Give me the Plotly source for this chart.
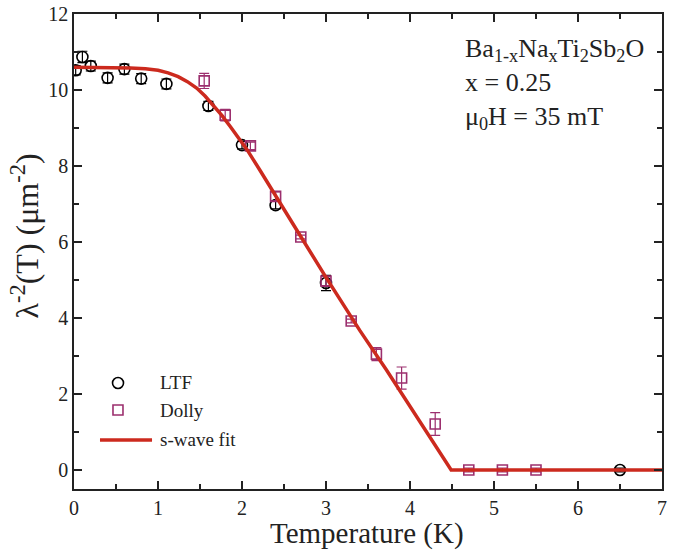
import plotly.graph_objects as go

# LTF data (circles)
ltf_T = [0.02, 0.1, 0.2, 0.4, 0.6, 0.8, 1.1, 1.6, 2.0, 2.4, 3.0, 6.5]
ltf_y = [10.52, 10.87, 10.63, 10.32, 10.55, 10.3, 10.16, 9.58, 8.55, 6.97, 4.92, 0.0]
ltf_err = [0.12, 0.15, 0.13, 0.13, 0.13, 0.13, 0.13, 0.12, 0.1, 0.1, 0.2, 0.05]

# Dolly data (squares)
dolly_T = [1.55, 1.8, 2.1, 2.4, 2.7, 3.0, 3.3, 3.6, 3.9, 4.3, 4.7, 5.1, 5.5]
dolly_y = [10.24, 9.34, 8.53, 7.2, 6.13, 4.97, 3.92, 3.05, 2.42, 1.21, 0.0, 0.0, 0.0]
dolly_err = [0.2, 0.15, 0.1, 0.12, 0.05, 0.12, 0.05, 0.17, 0.29, 0.3, 0.05, 0.05, 0.05]

# s-wave fit curve
fit_T = [0.0, 0.4, 0.67, 0.85, 1.0, 1.12, 1.24, 1.35, 1.46, 1.56, 1.65, 1.76, 1.86, 1.96, 2.06,
         2.21, 2.4, 2.6, 3.0, 3.4, 3.72, 4.0, 4.2, 4.35, 4.49, 7.0]
fit_y = [10.6, 10.6, 10.58, 10.56, 10.52, 10.45, 10.35, 10.22, 10.05, 9.84, 9.62, 9.33, 9.04, 8.74, 8.43,
         7.9, 7.2, 6.5, 5.07, 3.68, 2.63, 1.68, 1.0, 0.5, 0.0, 0.0]

legend_names = ["LTF", "Dolly", "s-wave fit"]

FONT = "Times New Roman, Liberation Serif, serif"
PURPLE = "#9c2f6e"
RED = "#cc2a1e"
INK = "#222"

fig = go.Figure()
fig.add_trace(go.Scatter(
    x=ltf_T, y=ltf_y, mode="markers", name=legend_names[0], showlegend=False,
    marker=dict(symbol="circle-open", size=11, color="black", line=dict(width=1.6, color="black")),
    error_y=dict(type="data", array=ltf_err, color="black", thickness=1.2, width=5),
))
fig.add_trace(go.Scatter(
    x=dolly_T, y=dolly_y, mode="markers", name=legend_names[1], showlegend=False,
    marker=dict(symbol="square-open", size=10, color=PURPLE, line=dict(width=1.6, color=PURPLE)),
    error_y=dict(type="data", array=dolly_err, color=PURPLE, thickness=1.2, width=5),
))
fig.add_trace(go.Scatter(
    x=fit_T, y=fit_y, mode="lines", name=legend_names[2], showlegend=False,
    line=dict(color=RED, width=3.5, shape="linear"),
))

axis_common = dict(
    showline=True, linecolor=INK, linewidth=1.6, mirror="ticks",
    ticks="inside", ticklen=8, tickwidth=1.5, tickcolor=INK,
    showgrid=False, zeroline=False, automargin=False,
    tickfont=dict(family=FONT, size=20, color=INK),
)
fig.update_xaxes(
    range=[0, 7], dtick=1, tick0=0,
    minor=dict(ticks="inside", ticklen=5, tickwidth=1.5, tickcolor=INK, dtick=0.5),
    **axis_common,
)
fig.update_yaxes(
    range=[-0.5, 12], dtick=2, tick0=0,
    minor=dict(ticks="inside", ticklen=5, tickwidth=1.5, tickcolor=INK, dtick=1),
    **axis_common,
)

# axis titles
fig.add_annotation(
    x=0.498, y=-0.094, xref="paper", yref="paper", xanchor="center", yanchor="middle",
    showarrow=False, text="Temperature (K)",
    font=dict(family=FONT, size=29, color=INK),
)
fig.add_annotation(
    x=-0.083, y=0.532, xref="paper", yref="paper", xanchor="center", yanchor="middle",
    showarrow=False, textangle=-90, text="λ<sup>-2</sup>(T) (μm<sup>-2</sup>)",
    font=dict(family=FONT, size=32, color=INK),
)

fig.add_annotation(
    x=0.662, y=0.962, xref="paper", yref="paper", xanchor="left", yanchor="top",
    showarrow=False, align="left",
    text="Ba<sub>1-x</sub>Na<sub>x</sub>Ti<sub>2</sub>Sb<sub>2</sub>O<br>x = 0.25<br>μ<sub>0</sub>H = 35 mT",
    font=dict(family=FONT, size=26, color=INK),
)

# hand-drawn legend (paper coordinates)
fig.add_shape(type="circle", xref="paper", yref="paper",
              x0=0.0655, x1=0.0842, y0=0.2116, y1=0.2347,
              line=dict(color="black", width=1.6))
fig.add_shape(type="rect", xref="paper", yref="paper",
              x0=0.0663, x1=0.0833, y0=0.1558, y1=0.1768,
              line=dict(color=PURPLE, width=1.6))
fig.add_shape(type="line", xref="paper", yref="paper",
              x0=0.0442, x1=0.1327, y0=0.1032, y1=0.1032,
              line=dict(color=RED, width=3.5))
for name, yc in zip(legend_names, [0.2232, 0.1663, 0.1032]):
    fig.add_annotation(x=0.1429, y=yc, xref="paper", yref="paper",
                       xanchor="left", yanchor="middle", showarrow=False,
                       text=name, font=dict(family=FONT, size=19, color=INK))

fig.update_layout(
    width=686, height=550,
    margin=dict(l=74, r=24, t=14, b=61),
    paper_bgcolor="white", plot_bgcolor="white",
    showlegend=False,
)

fig.write_html("out.html")
